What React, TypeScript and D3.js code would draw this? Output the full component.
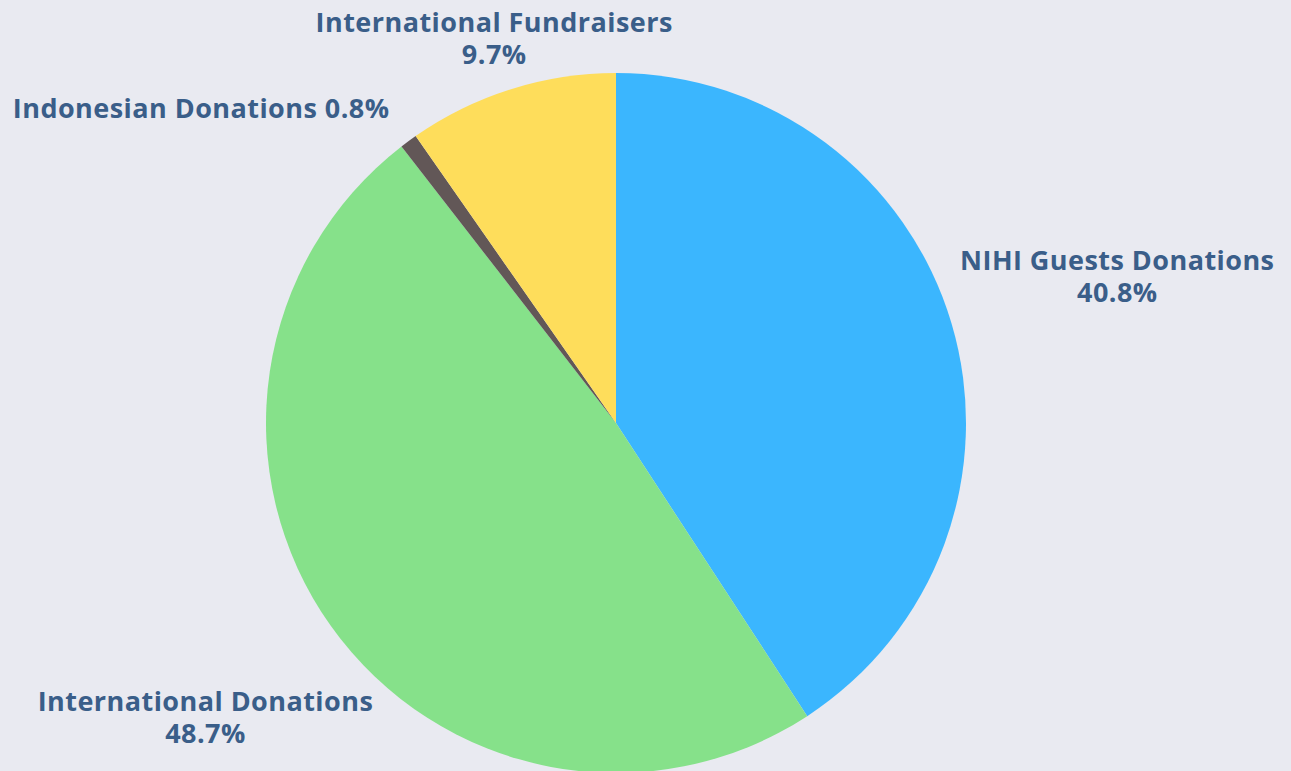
import React from "react";
import * as d3 from "d3";

const categories = ["NIHI Guests Donations", "International Donations", "Indonesian Donations", "International Fundraisers"];
const values = [40.8, 48.7, 0.8, 9.7];
const colors = ["#3bb6fe", "#86e18a", "#625757", "#fedd5b"];

const W = 1291;
const H = 771;
const cx = 616;
const cy = 423;
const R = 350;

export default function App() {
  const pie = d3.pie<number>().sort(null).value((d) => d);
  const arcs = pie(values);
  const arcGen = d3.arc<d3.PieArcDatum<number>>().innerRadius(0).outerRadius(R);
  const labelR = [523, 504, 0, 406];

  return (
    <svg width={W} height={H} style={{ position: "absolute", left: 0, top: 0 }}>
      <rect width={W} height={H} fill="#e9eaf1" />
      <g transform={`translate(${cx},${cy})`}>
        {arcs.map((a, i) => (
          <path key={i} d={arcGen(a) || ""} fill={colors[i]} />
        ))}
        {arcs.map((a, i) => {
          const mid = (a.startAngle + a.endAngle) / 2;
          const pct = `${values[i].toFixed(1)}%`;
          const style = {
            fontFamily: "'Open Sans', sans-serif",
            fontWeight: 700,
            fontSize: 27,
            letterSpacing: 0.45,
            fill: "#3a5e89",
          } as React.CSSProperties;
          if (i === 2) {
            // small slice: single-line label pushed up-left
            const ex = Math.sin(mid) * R;
            const ey = -Math.cos(mid) * R;
            return (
              <text key={i} x={ex - 19} y={ey - 23} textAnchor="end" style={style}>
                {`${categories[i]} ${pct}`}
              </text>
            );
          }
          const x = Math.sin(mid) * labelR[i];
          const y = -Math.cos(mid) * labelR[i];
          return (
            <g key={i}>
              <text x={x} y={y - 4} textAnchor="middle" style={style}>{categories[i]}</text>
              <text x={x} y={y + 28} textAnchor="middle" style={style}>{pct}</text>
            </g>
          );
        })}
      </g>
    </svg>
  );
}
